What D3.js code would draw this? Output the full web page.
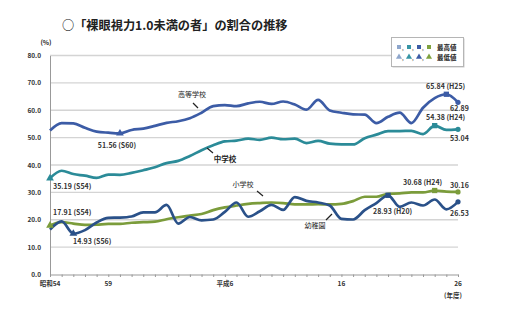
<!DOCTYPE html>
<html><head><meta charset="utf-8">
<script src="https://cdn.jsdelivr.net/npm/d3@7"></script>
<style>
html,body{margin:0;padding:0;background:#fff;}
svg{display:block;font-family:"Noto Sans CJK JP","Noto Sans",sans-serif;}
</style></head>
<body><svg id="c" width="505" height="329"></svg>
<script>
const years = [1979,1980,1981,1982,1983,1984,1985,1986,1987,1988,1989,1990,1991,1992,1993,1994,1995,1996,1997,1998,1999,2000,2001,2002,2003,2004,2005,2006,2007,2008,2009,2010,2011,2012,2013,2014];
const highSchool = [52.6,55.3,55.2,53.6,52.2,51.8,51.56,52.8,53.3,54.3,55.4,56.0,57.1,59.1,61.5,61.9,61.5,62.5,63.1,62.3,63.2,62.1,60.2,63.8,59.9,59.1,58.5,58.4,55.3,57.6,59.1,55.3,60.9,64.4,65.84,62.89];
const middleSchool = [35.19,37.9,36.7,36.1,35.3,36.5,36.4,37.1,38.1,39.2,40.7,41.5,43.3,45.4,47.2,48.6,48.9,49.6,49.2,50.0,49.4,49.6,48.0,48.8,47.8,47.5,47.5,49.8,51.1,52.4,52.4,52.5,51.3,54.38,52.8,53.04];
const elementary = [17.91,19.1,18.6,18.1,18.2,18.5,18.5,18.9,19.1,19.3,20.2,20.9,21.5,22.1,23.5,24.5,25.2,25.8,26.1,26.3,26.1,25.6,25.6,25.7,25.6,25.8,26.8,28.4,28.4,29.5,29.6,30.0,30.0,30.68,30.3,30.16];
const kindergarten = [16.4,19.4,14.93,16.2,19.0,20.7,20.8,21.2,22.7,22.7,25.4,18.6,21.0,19.8,20.1,22.9,26.3,21.1,23.1,25.4,23.6,28.3,26.9,26.3,25.2,20.3,20.1,23.5,26.1,28.93,24.7,26.3,25.2,27.4,23.8,26.53];
const yTicks = [0,10,20,30,40,50,60,70,80];
const xTickYears = [1979,1984,1994,2004,2014];
const xTickLabels = ["昭和54","59","平成6","16","26"];
const seriesNames = ["高等学校","中学校","小学校","幼稚園"];
const seriesColors = ["#3c5ca6","#2b8b98","#7b9c3b","#2a5189"];
const legendColors = ["#8ea6cc","#3795a5","#3c5ca6","#7fa23f"];

const svg = d3.select("#c");
const x = d3.scaleLinear().domain([1979,2014]).range([50,458]);
const y = d3.scaleLinear().domain([0,80]).range([274.5,55.5]);

// title
svg.append("text").attr("x",62).attr("y",30).attr("font-size",12.2).attr("font-weight","bold")
  .attr("fill","#222").text("○「裸眼視力1.0未満の者」の割合の推移");
svg.append("text").attr("x",46).attr("y",45).attr("text-anchor","middle").attr("font-size",6.5)
  .attr("font-weight","bold").attr("fill","#222").text("(%)");

// grid
svg.append("g").selectAll("line").data(yTicks.filter(d=>d>0)).join("line")
  .attr("x1",50).attr("x2",458).attr("y1",d=>y(d)).attr("y2",d=>y(d))
  .attr("stroke","#d4d4d4").attr("stroke-width",1.3);

// y axis
const ya = svg.append("g").attr("transform","translate(50,0)")
  .call(d3.axisLeft(y).tickValues(yTicks).tickSize(0).tickFormat(d3.format(".1f")));
ya.select(".domain").attr("stroke","#999").attr("stroke-width",1);
ya.selectAll("text").attr("font-size",6.5).attr("font-weight","bold").attr("fill","#333")
  .attr("x",-9).attr("font-family","'Noto Sans CJK JP',sans-serif");

// x axis
const xa = svg.append("g").attr("transform","translate(0,274.5)")
  .call(d3.axisBottom(x).tickValues(years).tickSize(2.5).tickSizeOuter(0).tickFormat(""));
xa.select(".domain").attr("stroke","#999").attr("stroke-width",1.2);
xa.selectAll(".tick line").attr("stroke","#999");
svg.append("g").selectAll("text").data(xTickYears).join("text")
  .attr("x",d=>x(d)).attr("y",286).attr("text-anchor","middle").attr("font-size",6.5)
  .attr("font-weight","bold").attr("fill","#333").text((d,i)=>xTickLabels[i]);
svg.append("text").attr("x",453).attr("y",298).attr("text-anchor","middle").attr("font-size",6.5)
  .attr("font-weight","bold").attr("fill","#333").text("(年度)");

// lines
const allSeries = [highSchool, middleSchool, elementary, kindergarten];
const line = d3.line().x((d,i)=>x(years[i])).y(d=>y(d)).curve(d3.curveMonotoneX);
[2,3,1,0].forEach(k=>{
  svg.append("path").datum(allSeries[k]).attr("d",line).attr("fill","none")
    .attr("stroke",seriesColors[k]).attr("stroke-width",2.7).attr("stroke-linejoin","round");
});

// markers
const sym = (type,size)=>d3.symbol().type(type).size(size)();
allSeries.forEach((s,k)=>{
  const maxI = s.indexOf(d3.max(s)), minI = s.indexOf(d3.min(s)), last = s.length-1;
  svg.append("path").attr("d",sym(d3.symbolSquare,28))
    .attr("transform",`translate(${x(years[maxI])},${y(s[maxI])})`).attr("fill",seriesColors[k]);
  svg.append("path").attr("d",sym(d3.symbolTriangle,26))
    .attr("transform",`translate(${x(years[minI])},${y(s[minI])})`).attr("fill",seriesColors[k]);
  svg.append("circle").attr("cx",x(years[last])).attr("cy",y(s[last])).attr("r",2.6)
    .attr("fill",seriesColors[k]);
});

// annotations
const ann = [
  {t:"51.56 (S60)", x:117, y:148, a:"middle"},
  {t:"35.19 (S54)", x:53, y:189, a:"start"},
  {t:"17.91 (S54)", x:53, y:215, a:"start"},
  {t:"14.93 (S56)", x:73, y:244, a:"start"},
  {t:"65.84 (H25)", x:426, y:89, a:"start"},
  {t:"62.89", x:450, y:111, a:"start"},
  {t:"54.38 (H24)", x:426, y:120, a:"start"},
  {t:"53.04", x:450, y:141, a:"start"},
  {t:"30.68 (H24)", x:403, y:185, a:"start"},
  {t:"30.16", x:450, y:188, a:"start"},
  {t:"28.93 (H20)", x:373, y:214, a:"start"},
  {t:"26.53", x:450, y:216, a:"start"}
];
svg.append("g").selectAll("text").data(ann).join("text")
  .attr("x",d=>d.x).attr("y",d=>d.y).attr("text-anchor",d=>d.a)
  .attr("font-size",7).attr("fill","#333").attr("font-weight","bold").text(d=>d.t);

const names = [
  {t:seriesNames[0], x:192, y:97, bold:false, l:[193,103,198,108]},
  {t:seriesNames[1], x:225, y:162, bold:true, l:[207,148,213,153]},
  {t:seriesNames[2], x:243, y:187, bold:false, l:[257,191,263,196]},
  {t:seriesNames[3], x:315, y:228, bold:false, l:[326,220,332,214]}
];
names.forEach(n=>{
  svg.append("text").attr("x",n.x).attr("y",n.y).attr("text-anchor","middle")
    .attr("font-size",n.bold?7.5:7).attr("font-weight",n.bold?"bold":"normal")
    .attr("fill","#222").text(n.t);
  svg.append("line").attr("x1",n.l[0]).attr("y1",n.l[1]).attr("x2",n.l[2]).attr("y2",n.l[3])
    .attr("stroke","#222").attr("stroke-width",1.2);
});

// legend
const lg = svg.append("g");
lg.append("rect").attr("x",392.5).attr("y",38.5).attr("width",72).attr("height",29)
  .attr("fill","#ccc");
lg.append("rect").attr("x",391.5).attr("y",37.5).attr("width",72).attr("height",29)
  .attr("fill","#fff").attr("stroke","#b5b5b5").attr("stroke-width",1);
legendColors.forEach((c,i)=>{
  const cx = 399 + i*10;
  lg.append("path").attr("d",sym(d3.symbolSquare,16)).attr("transform",`translate(${cx},47)`).attr("fill",c);
  lg.append("path").attr("d",sym(d3.symbolTriangle,16)).attr("transform",`translate(${cx},57)`).attr("fill",c);
  if(i<3){
    lg.append("text").attr("x",cx+3).attr("y",49.5).attr("font-size",6).attr("fill","#333").text(",");
    lg.append("text").attr("x",cx+3).attr("y",59.5).attr("font-size",6).attr("fill","#333").text(",");
  }
});
lg.append("text").attr("x",437).attr("y",49.5).attr("font-size",6.5).attr("font-weight","bold").attr("fill","#222").text("最高値");
lg.append("text").attr("x",437).attr("y",59.5).attr("font-size",6.5).attr("font-weight","bold").attr("fill","#222").text("最低値");
</script></body></html>
